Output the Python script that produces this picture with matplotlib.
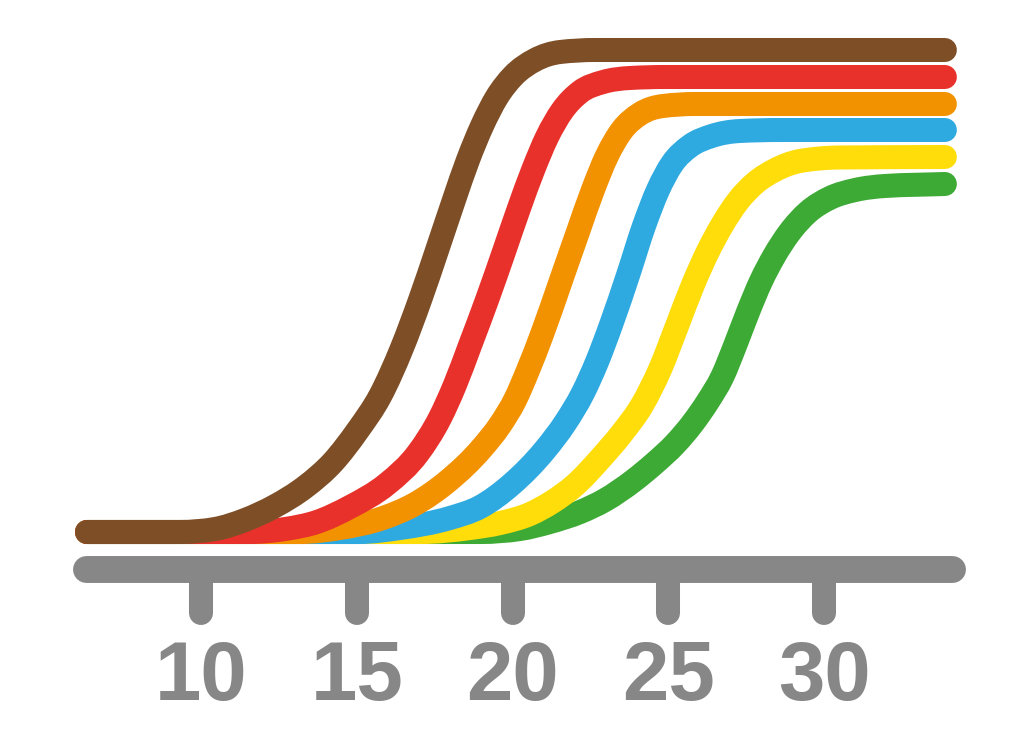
# Amplification curves (cycle vs signal)

# import modules
import matplotlib
matplotlib.use('Agg')
import matplotlib.pyplot as plt
from matplotlib.path import Path
from matplotlib.patches import PathPatch
import numpy as np


# DATA
# cycle number on x, fluorescence (arbitrary units) on y
brown_x = [6.34, 9.33, 10.45, 11.41, 12.38, 13.34, 14.24, 15.04, 15.75, 16.45, 17.03,
           17.58, 18.12, 18.57, 19.02, 19.50, 20.02, 20.72, 21.53, 22.65, 33.88]
brown_y = [0, 0, 3, 12, 26, 45, 70, 102, 136, 184, 232,
           282, 332, 372, 406, 435, 456, 472, 480, 482, 482]

red_x = [6.34, 11.57, 12.70, 13.72, 14.78, 15.97, 16.97, 17.67, 18.15, 18.64, 19.18,
         19.70, 20.21, 20.66, 21.11, 21.59, 22.17, 22.91, 23.77, 24.90, 33.88]
red_y = [0, 0, 3, 10, 25, 48, 79, 114, 147, 187, 232,
         278, 324, 362, 395, 421, 440, 450, 454, 455, 455]

orange_x = [6.34, 13.18, 14.46, 15.84, 16.87, 17.93, 19.02, 19.60, 20.08, 20.50,
            20.95, 21.56, 22.10, 22.58, 23.03, 23.52, 24.09, 24.83, 25.86, 33.88]
orange_y = [0, 0, 4, 14, 28, 51, 84, 107, 132, 162,
            198, 252, 300, 342, 376, 402, 418, 426, 428, 428]

blue_x = [6.34, 15.10, 16.39, 17.99, 18.96, 19.98, 21.04, 21.69, 22.26, 22.71,
          23.16, 23.71, 24.22, 24.67, 25.12, 25.70, 26.40, 27.30, 28.59, 33.88]
blue_y = [0, 0, 4, 14, 25, 48, 82, 109, 139, 170,
          207, 257, 306, 342, 368, 386, 396, 401, 402, 402]

yellow_x = [6.34, 17.03, 18.64, 19.60, 20.56, 21.27, 22.01, 22.81, 23.52, 24.16, 24.74,
            25.28, 25.79, 26.28, 26.73, 27.24, 27.79, 28.43, 29.23, 30.51, 33.88]
yellow_y = [0, 0, 4, 9, 18, 30, 47, 73, 99, 127, 163,
            206, 247, 281, 307, 331, 349, 362, 371, 374.5, 375]

green_x = [6.34, 18.96, 20.24, 21.20, 22.17, 22.97, 23.87, 24.57, 25.22, 25.79, 26.28,
           26.73, 27.14, 27.56, 27.98, 28.40, 28.88, 29.49, 30.19, 31.00, 31.96, 33.88]
green_y = [0, 0, 3, 10, 20, 32, 51, 69, 88, 109, 131,
           155, 186, 220, 251, 276, 299, 320, 334, 342, 346, 348]

ticks = [10, 15, 20, 25, 30]
tick_labels = ['10', '15', '20', '25', '30']
axis_range = [6.3, 34.1]


# FUNC SMOOTH PATH
def smooth_path(xs, ys):
    """monotone cubic bezier path through the points (like curveMonotoneX)"""
    x = np.asarray(xs, float)
    y = np.asarray(ys, float)
    h = np.diff(x)
    s = np.diff(y) / h
    n = len(x)
    m = np.zeros(n)
    for i in range(1, n - 1):
        if s[i - 1] * s[i] <= 0:
            m[i] = 0
        else:
            p = (s[i - 1] * h[i] + s[i] * h[i - 1]) / (h[i - 1] + h[i])
            m[i] = np.sign(s[i - 1]) * min(abs(s[i - 1]), abs(s[i]), 0.5 * abs(p)) * 2
    m[0] = s[0]
    m[-1] = s[-1]
    verts = [(x[0], y[0])]
    codes = [Path.MOVETO]
    for i in range(n - 1):
        d = h[i] / 3
        verts += [(x[i] + d, y[i] + m[i] * d),
                  (x[i + 1] - d, y[i + 1] - m[i + 1] * d),
                  (x[i + 1], y[i + 1])]
        codes += [Path.CURVE4] * 3
    return Path(verts, codes)


# PLOT
fig = plt.figure(figsize=(10.24, 7.34), dpi=100)
ax = fig.add_axes([0, 0, 1, 1])
ax.set_xlim(3.547, 36.42)
ax.set_ylim(-202, 532)
ax.axis('off')

gray = '#878787'
lw = 17.3

# curves, brown on top
series = [
    (green_x, green_y, '#3DAA35'),
    (yellow_x, yellow_y, '#FFDD0B'),
    (blue_x, blue_y, '#2FAAE1'),
    (orange_x, orange_y, '#F39200'),
    (red_x, red_y, '#E8312B'),
    (brown_x, brown_y, '#7E4F27'),
]
for i, (xs, ys, col) in enumerate(series):
    patch = PathPatch(smooth_path(xs, ys), facecolor='none', edgecolor=col,
                      linewidth=lw, capstyle='round', joinstyle='round',
                      zorder=2 + i)
    ax.add_patch(patch)

# x axis with rounded ticks
axis_y = -37
tick_end = -81
ax.plot(axis_range, [axis_y, axis_y], color=gray, linewidth=19.4,
        solid_capstyle='round', zorder=1)
for t, lab in zip(ticks, tick_labels):
    ax.plot([t, t], [axis_y, tick_end], color=gray, linewidth=17.3,
            solid_capstyle='round', zorder=1)
    ax.text(t, -168, lab, ha='center', va='baseline', color=gray,
            fontsize=60, fontweight='bold', family='Liberation Sans')

fig.savefig('out.png', dpi=100, facecolor='white')
